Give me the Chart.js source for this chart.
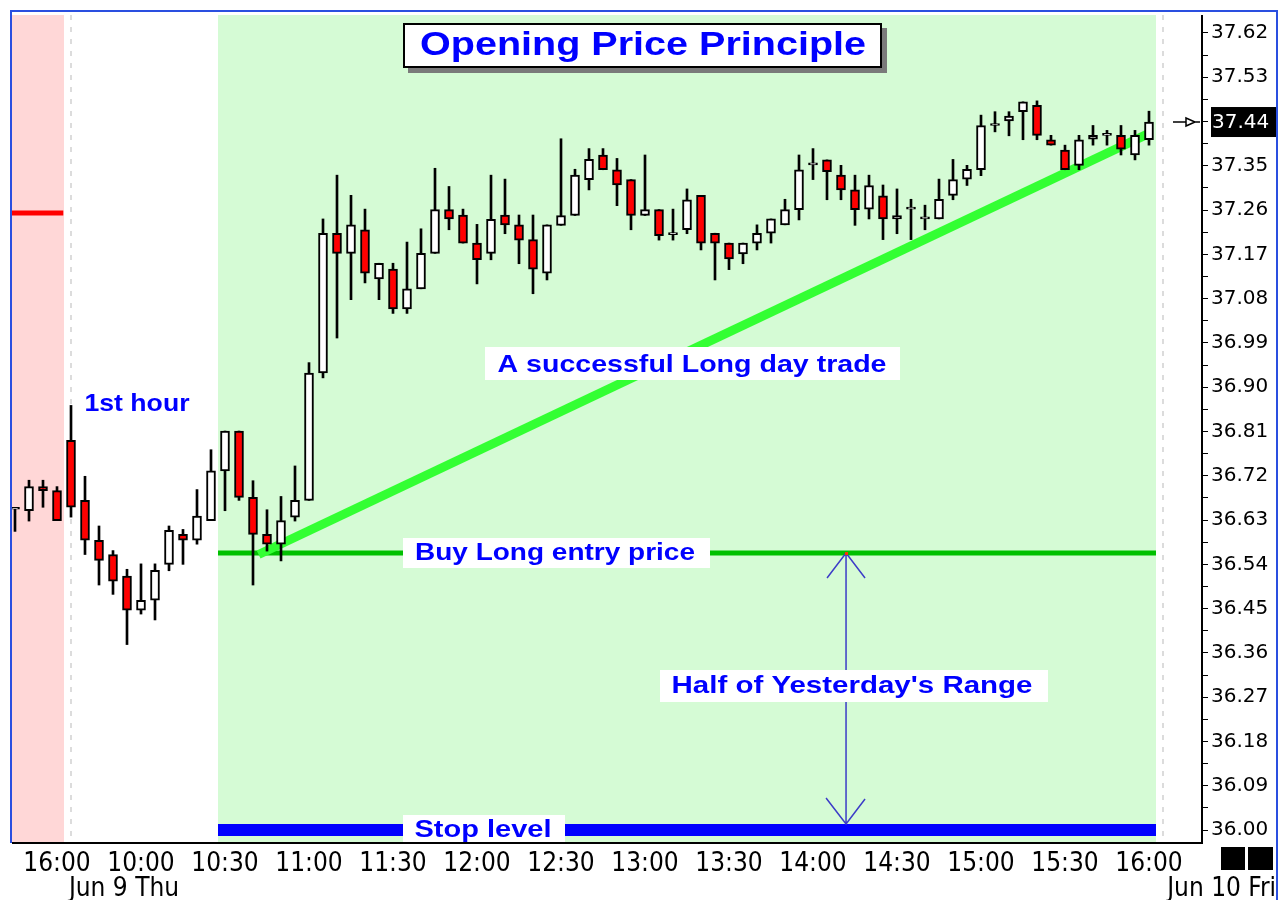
<!DOCTYPE html>
<html>
<head>
<meta charset="utf-8">
<script src="https://cdn.jsdelivr.net/npm/chart.js@4.4.1/dist/chart.umd.min.js"></script>
<style>
  html, body { margin: 0; padding: 0; background: #fff; }
</style>
</head>
<body>
<canvas id="myChart" width="1278" height="900"></canvas>
<script>
// 5 minute bars: last 4 of Jun 8, then Jun 9 session
const opens = [
    36.652, 36.649, 36.698, 36.690, 36.792, 36.670, 36.589, 36.560, 36.516, 36.447,
    36.467, 36.540, 36.601, 36.589, 36.629, 36.730, 36.811, 36.676, 36.601, 36.581,
    36.636, 36.670, 36.929, 37.213, 37.172, 37.220, 37.120, 37.140, 37.059, 37.100,
    37.172, 37.261, 37.250, 37.193, 37.172, 37.250, 37.230, 37.200, 37.132, 37.229,
    37.249, 37.322, 37.372, 37.342, 37.322, 37.249, 37.261, 37.210, 37.220, 37.290,
    37.213, 37.193, 37.171, 37.193, 37.213, 37.230, 37.261, 37.352, 37.362, 37.331,
    37.301, 37.262, 37.289, 37.242, 37.262, 37.242, 37.242, 37.290, 37.323, 37.342,
    37.432, 37.441, 37.460, 37.473, 37.403, 37.382, 37.351, 37.404, 37.412, 37.412,
    37.372, 37.403
];
const highs = [
    36.652, 36.711, 36.711, 36.698, 36.863, 36.719, 36.618, 36.568, 36.530, 36.541,
    36.541, 36.618, 36.611, 36.692, 36.773, 36.811, 36.811, 36.710, 36.651, 36.678,
    36.740, 36.950, 37.242, 37.331, 37.290, 37.262, 37.152, 37.152, 37.195, 37.222,
    37.345, 37.308, 37.262, 37.231, 37.331, 37.323, 37.250, 37.250, 37.230, 37.405,
    37.343, 37.385, 37.385, 37.365, 37.322, 37.372, 37.261, 37.262, 37.303, 37.290,
    37.213, 37.193, 37.193, 37.230, 37.242, 37.282, 37.372, 37.385, 37.362, 37.351,
    37.331, 37.331, 37.311, 37.303, 37.282, 37.270, 37.323, 37.363, 37.351, 37.453,
    37.460, 37.460, 37.480, 37.482, 37.412, 37.392, 37.412, 37.432, 37.422, 37.432,
    37.422, 37.461
];
const lows = [
    36.607, 36.628, 36.656, 36.629, 36.636, 36.560, 36.498, 36.479, 36.377, 36.439,
    36.427, 36.527, 36.540, 36.581, 36.629, 36.649, 36.670, 36.498, 36.567, 36.547,
    36.628, 36.670, 36.919, 37.000, 37.078, 37.112, 37.078, 37.050, 37.050, 37.100,
    37.172, 37.220, 37.193, 37.110, 37.159, 37.212, 37.151, 37.090, 37.118, 37.229,
    37.249, 37.301, 37.342, 37.269, 37.220, 37.249, 37.199, 37.199, 37.212, 37.179,
    37.118, 37.139, 37.151, 37.179, 37.193, 37.230, 37.240, 37.322, 37.281, 37.281,
    37.229, 37.242, 37.200, 37.212, 37.200, 37.220, 37.242, 37.281, 37.310, 37.330,
    37.419, 37.411, 37.403, 37.403, 37.392, 37.342, 37.342, 37.392, 37.392, 37.372,
    37.362, 37.392
];
const closes = [
    36.652, 36.698, 36.690, 36.629, 36.656, 36.589, 36.548, 36.506, 36.447, 36.467,
    36.528, 36.609, 36.589, 36.638, 36.730, 36.811, 36.676, 36.601, 36.581, 36.629,
    36.670, 36.929, 37.213, 37.172, 37.230, 37.132, 37.152, 37.059, 37.100, 37.172,
    37.261, 37.242, 37.193, 37.159, 37.241, 37.230, 37.199, 37.140, 37.230, 37.249,
    37.331, 37.363, 37.342, 37.311, 37.249, 37.261, 37.208, 37.210, 37.281, 37.193,
    37.193, 37.161, 37.193, 37.213, 37.242, 37.261, 37.342, 37.352, 37.338, 37.301,
    37.261, 37.310, 37.242, 37.249, 37.262, 37.242, 37.282, 37.322, 37.343, 37.432,
    37.432, 37.451, 37.480, 37.412, 37.392, 37.342, 37.403, 37.412, 37.412, 37.384,
    37.412, 37.439
];

const timeLabels = ['16:00', '10:00', '10:30', '11:00', '11:30', '12:00', '12:30',
    '13:00', '13:30', '14:00', '14:30', '15:00', '15:30', '16:00'];
const timeBars = [3, 9, 15, 21, 27, 33, 39, 45, 51, 57, 63, 69, 75, 81];
const dateLabels = ['Jun 9 Thu', 'Jun 10 Fri'];

const priceLabels = ['36.00', '36.09', '36.18', '36.27', '36.36', '36.45', '36.54',
    '36.63', '36.72', '36.81', '36.90', '36.99', '37.08', '37.17', '37.26', '37.35',
    '37.44', '37.53', '37.62'];

// levels and trade lines
const entryPrice = 36.563;
const stopPrice = 36.00;
const prevDayLevel = 37.254;
const trendX = [17.4, 80.85];
const trendY = [36.56, 37.414];
const firstHourEnd = 14.5;
const sessionEnd = 81.5;
const prevDayEnd = 3.5;
const dayBreaks = [4, 82];
const rangeArrowX = 59.36;

// y ticks: labelled every 0.09, small marks in between
const yTicks = [];
const yTickText = [];
priceLabels.forEach((p, i) => {
    yTicks.push(parseFloat(p));
    yTickText.push(p);
    if (i < priceLabels.length - 1) {
        yTicks.push(Math.round((parseFloat(p) + 0.045) * 1000) / 1000);
        yTickText.push('');
    }
});

const bars = opens.map((o, i) => i);
const wickData = bars.map(i => ({x: i, y: [lows[i], highs[i]]}));
const bodyData = bars.map(i => ({x: i, y: [opens[i], closes[i]]}));
const bodyColors = bars.map(i => closes[i] >= opens[i] ? '#ffffff' : '#ff0000');

const narrow = "'Liberation Sans Narrow', 'DejaVu Sans Condensed', sans-serif";
const blue = '#0000ff';
const labelFont = "bold 24px 'Liberation Sans', Arial, sans-serif";

function fitText(ctx, txt, cx, cy, w, font, color) {
    ctx.save();
    ctx.font = font;
    ctx.fillStyle = color;
    ctx.textAlign = 'center';
    ctx.textBaseline = 'middle';
    const m = ctx.measureText(txt).width;
    ctx.translate(cx, cy);
    ctx.scale(w / m, 1);
    ctx.fillText(txt, 0, 0);
    ctx.restore();
}

const decor = {
    id: 'decor',
    beforeDatasetsDraw(chart) {
        const {ctx, chartArea: ca, scales: {x, y}} = chart;
        ctx.save();
        // prior session shading
        let x1 = Math.max(ca.left, x.getPixelForValue(-0.5));
        let x2 = x.getPixelForValue(prevDayEnd);
        ctx.fillStyle = '#ffd7d7';
        ctx.fillRect(x1, ca.top, x2 - x1, ca.bottom - ca.top);
        // after first hour shading
        x1 = x.getPixelForValue(firstHourEnd);
        x2 = x.getPixelForValue(sessionEnd);
        ctx.fillStyle = '#d5fbd5';
        ctx.fillRect(x1, ca.top, x2 - x1, ca.bottom - ca.top);
        // day separators
        ctx.strokeStyle = '#dcdcdc';
        ctx.lineWidth = 2;
        ctx.setLineDash([5, 7]);
        dayBreaks.forEach(d => {
            const px = x.getPixelForValue(d);
            ctx.beginPath();
            ctx.moveTo(px, ca.top);
            ctx.lineTo(px, ca.bottom);
            ctx.stroke();
        });
        ctx.restore();
    },
    afterDatasetsDraw(chart) {
        const {ctx, chartArea: ca, scales: {x, y}} = chart;
        ctx.save();

        // range arrow from entry down to stop
        const ax = x.getPixelForValue(rangeArrowX);
        const ay1 = y.getPixelForValue(entryPrice);
        const ay2 = y.getPixelForValue(stopPrice) - 6;
        ctx.strokeStyle = '#3c3cc8';
        ctx.lineWidth = 1.5;
        ctx.beginPath();
        ctx.moveTo(ax, ay1); ctx.lineTo(ax, ay2);
        ctx.moveTo(ax - 19, ay1 + 25); ctx.lineTo(ax, ay1); ctx.lineTo(ax + 19, ay1 + 25);
        ctx.moveTo(ax - 20, ay2 - 26); ctx.lineTo(ax, ay2); ctx.lineTo(ax + 19, ay2 - 25);
        ctx.stroke();
        ctx.fillStyle = '#ff3300';
        ctx.fillRect(ax - 1, ay1 - 1, 3, 3);

        // text boxes
        const boxes = [
            {t: 'A successful Long day trade', r: [485, 347, 415, 33], w: 389, cx: 692, cy: 365},
            {t: 'Buy Long entry price', r: [403, 538, 307, 30], w: 280, cx: 555, cy: y.getPixelForValue(entryPrice)},
            {t: "Half of Yesterday's Range", r: [660, 670, 388, 32], w: 361, cx: 852, cy: 686},
            {t: 'Stop level', r: [403, 815, 162, 28], w: 137, cx: 483, cy: y.getPixelForValue(stopPrice)}
        ];
        boxes.forEach(b => {
            ctx.fillStyle = '#ffffff';
            ctx.fillRect(b.r[0], b.r[1], b.r[2], b.r[3]);
            fitText(ctx, b.t, b.cx, b.cy, b.w, labelFont, blue);
        });
        fitText(ctx, '1st hour', 137, 404, 105, labelFont, blue);

        // title box with shadow
        ctx.fillStyle = '#7a7a7a';
        ctx.fillRect(408, 28, 479, 45);
        ctx.fillStyle = '#ffffff';
        ctx.fillRect(403, 23, 479, 45);
        ctx.strokeStyle = '#000';
        ctx.lineWidth = 2;
        ctx.strokeRect(404, 24, 477, 43);
        fitText(ctx, 'Opening Price Principle', 643, 46, 446, "bold 33px 'Liberation Sans', Arial, sans-serif", blue);
        ctx.restore();
    },
    afterDraw(chart) {
        const {ctx, chartArea: ca, scales: {x, y}} = chart;
        ctx.save();
        // frame
        ctx.fillStyle = '#000';
        ctx.fillRect(ca.right - 1, ca.top, 2, ca.bottom - ca.top + 1);
        ctx.fillRect(ca.left, ca.bottom - 1, ca.right - ca.left + 1, 2);
        ctx.fillStyle = '#2a4fe0';
        ctx.fillRect(10, 10, 1268, 2);
        ctx.fillRect(10, 10, 2, ca.bottom - 10);
        ctx.fillRect(1276, 10, 2, 890);

        // last price marker
        const last = closes[closes.length - 1];
        const py = y.getPixelForValue(last);
        ctx.strokeStyle = '#000';
        ctx.lineWidth = 1.5;
        ctx.beginPath();
        ctx.moveTo(1173, py); ctx.lineTo(1186, py);
        ctx.moveTo(1195, py); ctx.lineTo(1200, py);
        ctx.moveTo(1186, py - 4); ctx.lineTo(1195, py); ctx.lineTo(1186, py + 4); ctx.closePath();
        ctx.stroke();
        ctx.fillStyle = '#000';
        ctx.fillRect(1211, py - 15, 65, 30);
        ctx.fillStyle = '#fff';
        ctx.font = "20px 'DejaVu Sans', sans-serif";
        ctx.textAlign = 'left';
        ctx.textBaseline = 'middle';
        ctx.fillText(last.toFixed(2), 1212, py + 1);

        // dates under the time axis
        ctx.fillStyle = '#000';
        ctx.font = '26px ' + narrow;
        ctx.textAlign = 'center';
        ctx.fillText(dateLabels[0], 124, 889);
        ctx.textAlign = 'right';
        ctx.fillText(dateLabels[1], 1276, 889);

        // two black squares
        ctx.fillRect(1221, 847, 24, 23);
        ctx.fillRect(1248, 847, 25, 23);
        ctx.restore();
    }
};

const data = {
    datasets: [
        {
            type: 'bar', label: 'wicks', data: wickData,
            backgroundColor: '#000', borderWidth: 0,
            barThickness: 2, grouped: false, order: 2
        },
        {
            type: 'bar', label: 'bodies', data: bodyData,
            backgroundColor: bodyColors, borderColor: '#000', borderWidth: 2,
            borderSkipped: false, barThickness: 9, minBarLength: 2,
            grouped: false, order: 1
        },
        {
            type: 'line', label: 'prev level',
            data: [{x: -0.5, y: prevDayLevel}, {x: prevDayEnd - 0.05, y: prevDayLevel}],
            borderColor: '#ff0000', borderWidth: 5, pointRadius: 0, order: 6
        },
        {
            type: 'line', label: 'entry',
            data: [{x: firstHourEnd, y: entryPrice}, {x: sessionEnd, y: entryPrice}],
            borderColor: '#00c000', borderWidth: 5, pointRadius: 0, order: 6
        },
        {
            type: 'line', label: 'stop',
            data: [{x: firstHourEnd, y: stopPrice}, {x: sessionEnd, y: stopPrice}],
            borderColor: '#0000ff', borderWidth: 12, pointRadius: 0, order: 6
        },
        {
            type: 'line', label: 'trend',
            data: [{x: trendX[0], y: trendY[0]}, {x: trendX[1], y: trendY[1]}],
            borderColor: '#33ff33', borderWidth: 9, pointRadius: 0, order: 5
        }
    ]
};

const config = {
    type: 'bar',
    data: data,
    options: {
        responsive: false,
        animation: false,
        layout: { padding: { left: 12, top: 12, right: 0, bottom: 0 } },
        plugins: { legend: { display: false }, tooltip: { enabled: false } },
        scales: {
            x: {
                type: 'linear', min: -0.2143, max: 84.786, offset: false,
                afterBuildTicks: a => { a.ticks = timeBars.map(v => ({value: v})); },
                afterFit: a => { a.height = 57; },
                grid: { display: false, drawTicks: false },
                border: { display: false },
                ticks: {
                    autoSkip: false, maxRotation: 0, padding: 6, color: '#000',
                    font: { family: narrow, size: 26 },
                    callback: (v, i) => timeLabels[i]
                }
            },
            y: {
                type: 'linear', position: 'right', min: 35.9737, max: 37.6565,
                afterBuildTicks: a => { a.ticks = yTicks.map(v => ({value: v})); },
                afterFit: a => { a.width = 76; },
                grid: { drawOnChartArea: false, drawTicks: true, tickLength: 6, color: '#000' },
                border: { display: false },
                ticks: {
                    autoSkip: false, padding: 3, color: '#000',
                    font: { family: "'DejaVu Sans', sans-serif", size: 20 },
                    callback: (v, i) => yTickText[i]
                }
            }
        }
    },
    plugins: [decor]
};

const myChart = new Chart(document.getElementById('myChart'), config);
</script>
</body>
</html>
